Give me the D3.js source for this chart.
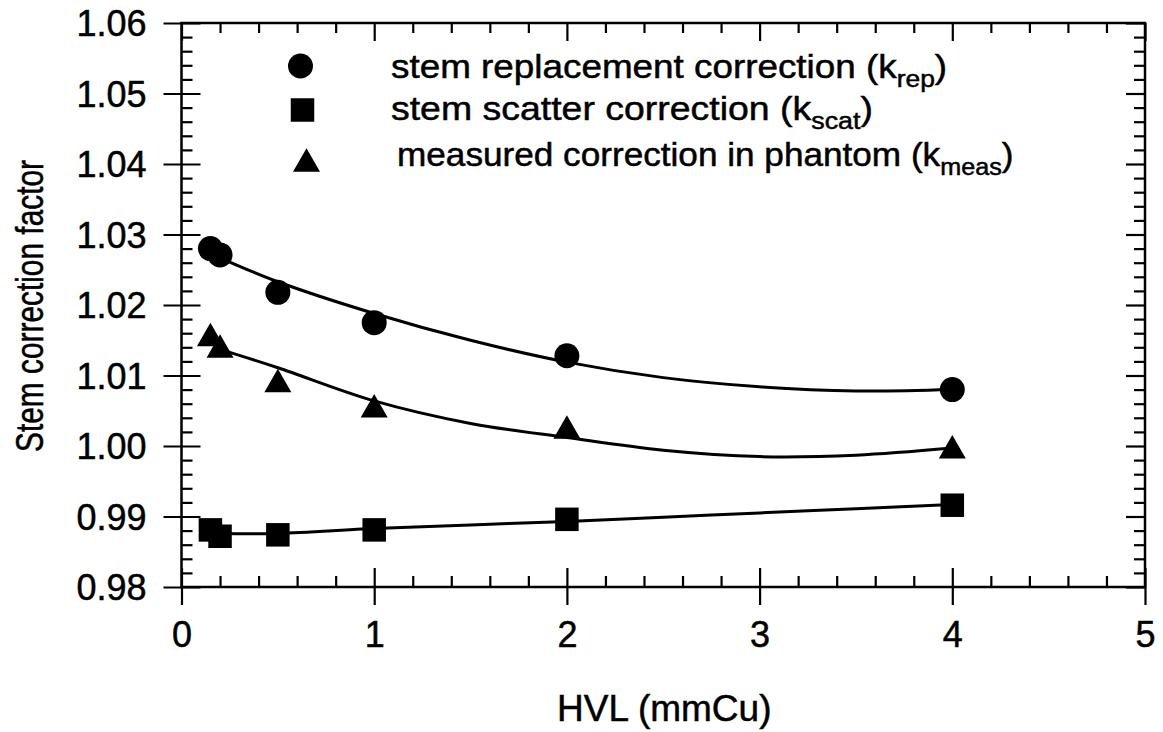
<!DOCTYPE html>
<html>
<head>
<meta charset="utf-8">
<script src="https://cdn.jsdelivr.net/npm/d3@7"></script>
<style>
  body { margin: 0; background: #fff; }
  svg { display: block; font-family: "Liberation Sans", Arial, Helvetica, sans-serif; }
  text { stroke: #000; stroke-width: 0.5px; }
</style>
</head>
<body>
<svg id="chart" width="1163" height="732"></svg>
<script>
// measured points
var hvl = [0.15, 0.2, 0.5, 1, 2, 4];
var kRep = [1.0280, 1.0271, 1.0218, 1.0175, 1.0128, 1.0080];
var kScat = [0.9881, 0.9872, 0.9874, 0.9881, 0.9896, 0.9916];
var kMeas = [1.0158, 1.0142, 1.0093, 1.0057, 1.0027, 0.9999];

// fitted curves
var fitX = [0.2, 0.5, 1, 1.5, 2, 2.5, 3, 3.5, 4];
var repFit = [1.0267, 1.0233, 1.0188, 1.0150, 1.0119, 1.0097, 1.0084, 1.0078, 1.0080];
var scatFit = [0.9876, 0.9876, 0.9883, 0.9888, 0.9893, 0.9899, 0.9905, 0.9911, 0.9917];
var measFit = [1.0137, 1.0111, 1.0064, 1.0032, 1.0012, 0.9994, 0.9985, 0.9987, 0.9997];

var xTicks = [0, 1, 2, 3, 4, 5];
var yTicks = [0.98, 0.99, 1.00, 1.01, 1.02, 1.03, 1.04, 1.05, 1.06];

var legendItems = [
  { sym: 'circle', text: 'stem replacement correction (k', sub: 'rep' },
  { sym: 'square', text: 'stem scatter correction (k', sub: 'scat' },
  { sym: 'triangle', text: 'measured correction in phantom (k', sub: 'meas' }
];

var margin = { top: 23, right: 18, bottom: 145, left: 181.5 },
    width = 1163 - margin.left - margin.right,
    height = 732 - margin.top - margin.bottom;

var svg = d3.select('#chart');
var g = svg.append('g').attr('transform', 'translate(' + margin.left + ',' + margin.top + ')');

var x = d3.scaleLinear().domain([0, 5]).range([0, width]);
var y = d3.scaleLinear().domain([0.98, 1.06]).range([height, 0]);

var xMinor = d3.range(0, 5.001, 0.2).filter(function (d) { return Math.abs(d - Math.round(d)) > 1e-6; });
var yMinor = d3.range(0, 41).map(function (i) { return 0.98 + i * 0.002; })
  .filter(function (d, i) { return i % 5 !== 0; });

function styleAxis(sel) {
  sel.select('.domain').remove();
  sel.selectAll('.tick line').attr('stroke', '#000').attr('stroke-width', 2.2);
  sel.selectAll('.tick text').attr('fill', '#000').attr('font-size', 36);
}

// left axis, major ticks cross the frame
var yAxis = g.append('g')
  .call(d3.axisLeft(y).tickValues(yTicks).tickSize(18).tickPadding(17).tickFormat(d3.format('.2f')));
styleAxis(yAxis);
yAxis.selectAll('.tick line').attr('x1', 19);
yAxis.selectAll('.tick text').attr('dy', '0.36em');

g.append('g').call(d3.axisLeft(y).tickValues(yMinor).tickSize(-11).tickFormat('')).call(styleAxis);

// right axis, inward ticks only
g.append('g').attr('transform', 'translate(' + width + ',0)')
  .call(d3.axisRight(y).tickValues(yTicks).tickSize(-19).tickFormat('')).call(styleAxis);
g.append('g').attr('transform', 'translate(' + width + ',0)')
  .call(d3.axisRight(y).tickValues(yMinor).tickSize(-11).tickFormat('')).call(styleAxis);

// bottom axis
var xAxis = g.append('g').attr('transform', 'translate(0,' + height + ')')
  .call(d3.axisBottom(x).tickValues(xTicks).tickSize(18).tickPadding(16).tickFormat(d3.format('d')));
styleAxis(xAxis);
xAxis.selectAll('.tick line').attr('y1', -19);

g.append('g').attr('transform', 'translate(0,' + height + ')')
  .call(d3.axisBottom(x).tickValues(xMinor).tickSize(-11).tickFormat('')).call(styleAxis);

// top axis
g.append('g').call(d3.axisTop(x).tickValues(xTicks).tickSize(-18).tickFormat('')).call(styleAxis);
g.append('g').call(d3.axisTop(x).tickValues(xMinor).tickSize(-10).tickFormat('')).call(styleAxis);

// frame
g.append('rect')
  .attr('width', width).attr('height', height)
  .attr('fill', 'none').attr('stroke', '#000').attr('stroke-width', 2.5);

// axis titles
svg.append('text')
  .attr('x', margin.left + x(2.5) + 1).attr('y', 721)
  .attr('text-anchor', 'middle').attr('font-size', 37)
  .text('HVL (mmCu)');

svg.append('text')
  .attr('transform', 'translate(43,306) rotate(-90)')
  .attr('text-anchor', 'middle').attr('font-size', 38)
  .attr('textLength', 292).attr('lengthAdjust', 'spacingAndGlyphs')
  .text('Stem correction factor');

// fitted curves
var line = d3.line()
  .x(function (d) { return x(d[0]); })
  .y(function (d) { return y(d[1]); })
  .curve(d3.curveCatmullRom);

[repFit, scatFit, measFit].forEach(function (vals) {
  g.append('path')
    .datum(d3.zip(fitX, vals))
    .attr('fill', 'none')
    .attr('stroke', '#000')
    .attr('stroke-width', 3)
    .attr('d', line);
});

// markers
var symCircle = d3.symbol().type(d3.symbolCircle).size(Math.PI * 12.5 * 12.5);
var symSquare = d3.symbol().type(d3.symbolSquare).size(23.5 * 23.5);
var symTriangle = function () {
  // flat-based triangle, 27 wide, 23.5 tall, centred on box
  return 'M0,-11.75L13.5,11.75L-13.5,11.75Z';
};
var symbolFor = { circle: symCircle, square: symSquare, triangle: symTriangle };

function drawMarkers(vals, sym) {
  g.selectAll(null)
    .data(d3.zip(hvl, vals))
    .enter().append('path')
    .attr('transform', function (d) { return 'translate(' + x(d[0]) + ',' + y(d[1]) + ')'; })
    .attr('d', symbolFor[sym])
    .attr('fill', '#000');
}
drawMarkers(kRep, 'circle');
drawMarkers(kScat, 'square');
drawMarkers(kMeas, 'triangle');

// legend
var legendSymX = [300.5, 302.5, 306.5],
    legendSymY = [66, 110, 160],
    legendTextX = [391, 391, 397],
    legendTextY = [78, 120, 166],
    legendStretch = [1.1, 1.118, 1.05];

var leg = svg.append('g');
legendItems.forEach(function (item, i) {
  leg.append('path')
    .attr('transform', 'translate(' + legendSymX[i] + ',' + legendSymY[i] + ')')
    .attr('d', symbolFor[item.sym])
    .attr('fill', '#000');
  // the source lettering is a little wider than Liberation Sans
  var t = leg.append('text')
    .attr('transform', 'translate(' + legendTextX[i] + ',' + legendTextY[i] + ') scale(' + legendStretch[i] + ',1)')
    .attr('font-size', 33.5);
  t.append('tspan').text(item.text);
  t.append('tspan').attr('font-size', 24).attr('dy', 9).text(item.sub);
  t.append('tspan').attr('dy', -9).text(')');
});
</script>
</body>
</html>
